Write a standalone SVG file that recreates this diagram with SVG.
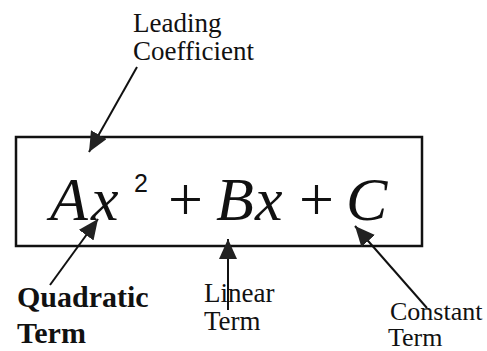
<svg xmlns="http://www.w3.org/2000/svg" width="487" height="351" viewBox="0 0 487 351">
<style>
.lbl{font-family:"Liberation Serif","Times New Roman",serif;font-size:27px;fill:#111}
.bold{font-weight:bold;font-size:30px}
.math{font-family:"Liberation Serif","Times New Roman",serif;font-size:62px;fill:#111}
.it{font-style:italic}
.sup{font-family:"Liberation Sans",Arial,sans-serif;font-size:25px;fill:#111}
.conn{stroke:#111;stroke-width:2;fill:none;marker-end:url(#ah)}
</style>
<defs>
<marker id="ah" markerUnits="userSpaceOnUse" markerWidth="22" markerHeight="20" refX="20" refY="9" orient="auto">
<path d="M0,0 L20,9 L0,18 Z" fill="#222"/>
</marker>
</defs>
<rect width="487" height="351" fill="#fff"/>
<g id="equation">
<rect x="16" y="137" width="406" height="109" fill="none" stroke="#111" stroke-width="2.5"/>
<text class="math"><tspan class="it" x="50" y="220">A</tspan><tspan class="it" x="91" y="220">x</tspan><tspan x="168" y="220">+</tspan><tspan class="it" x="216" y="220">B</tspan><tspan class="it" x="255" y="220">x</tspan><tspan x="299" y="220">+</tspan><tspan class="it" x="346" y="220">C</tspan></text>
<text class="sup" x="134" y="192">2</text>
</g>
<g id="leading">
<text class="lbl" x="133" y="32">Leading</text>
<text class="lbl" x="133" y="60">Coefficient</text>
</g>
<g id="quadratic">
<text class="lbl bold" x="17" y="307">Quadratic</text>
<text class="lbl bold" x="17" y="343">Term</text>
</g>
<g id="linear">
<text class="lbl" x="204" y="302">Linear</text>
<text class="lbl" x="204" y="330">Term</text>
</g>
<g id="constant">
<text class="lbl" x="390" y="320" style="font-size:26px">Constant</text>
<text class="lbl" x="388" y="346" style="font-size:26px">Term</text>
</g>
<g id="connectors">
<line class="conn" x1="137" y1="67" x2="89" y2="152"/>
<line class="conn" x1="50" y1="285" x2="98" y2="219"/>
<line class="conn" x1="228" y1="310" x2="228" y2="239"/>
<line class="conn" x1="427" y1="308" x2="355" y2="226"/>
</g>
</svg>
